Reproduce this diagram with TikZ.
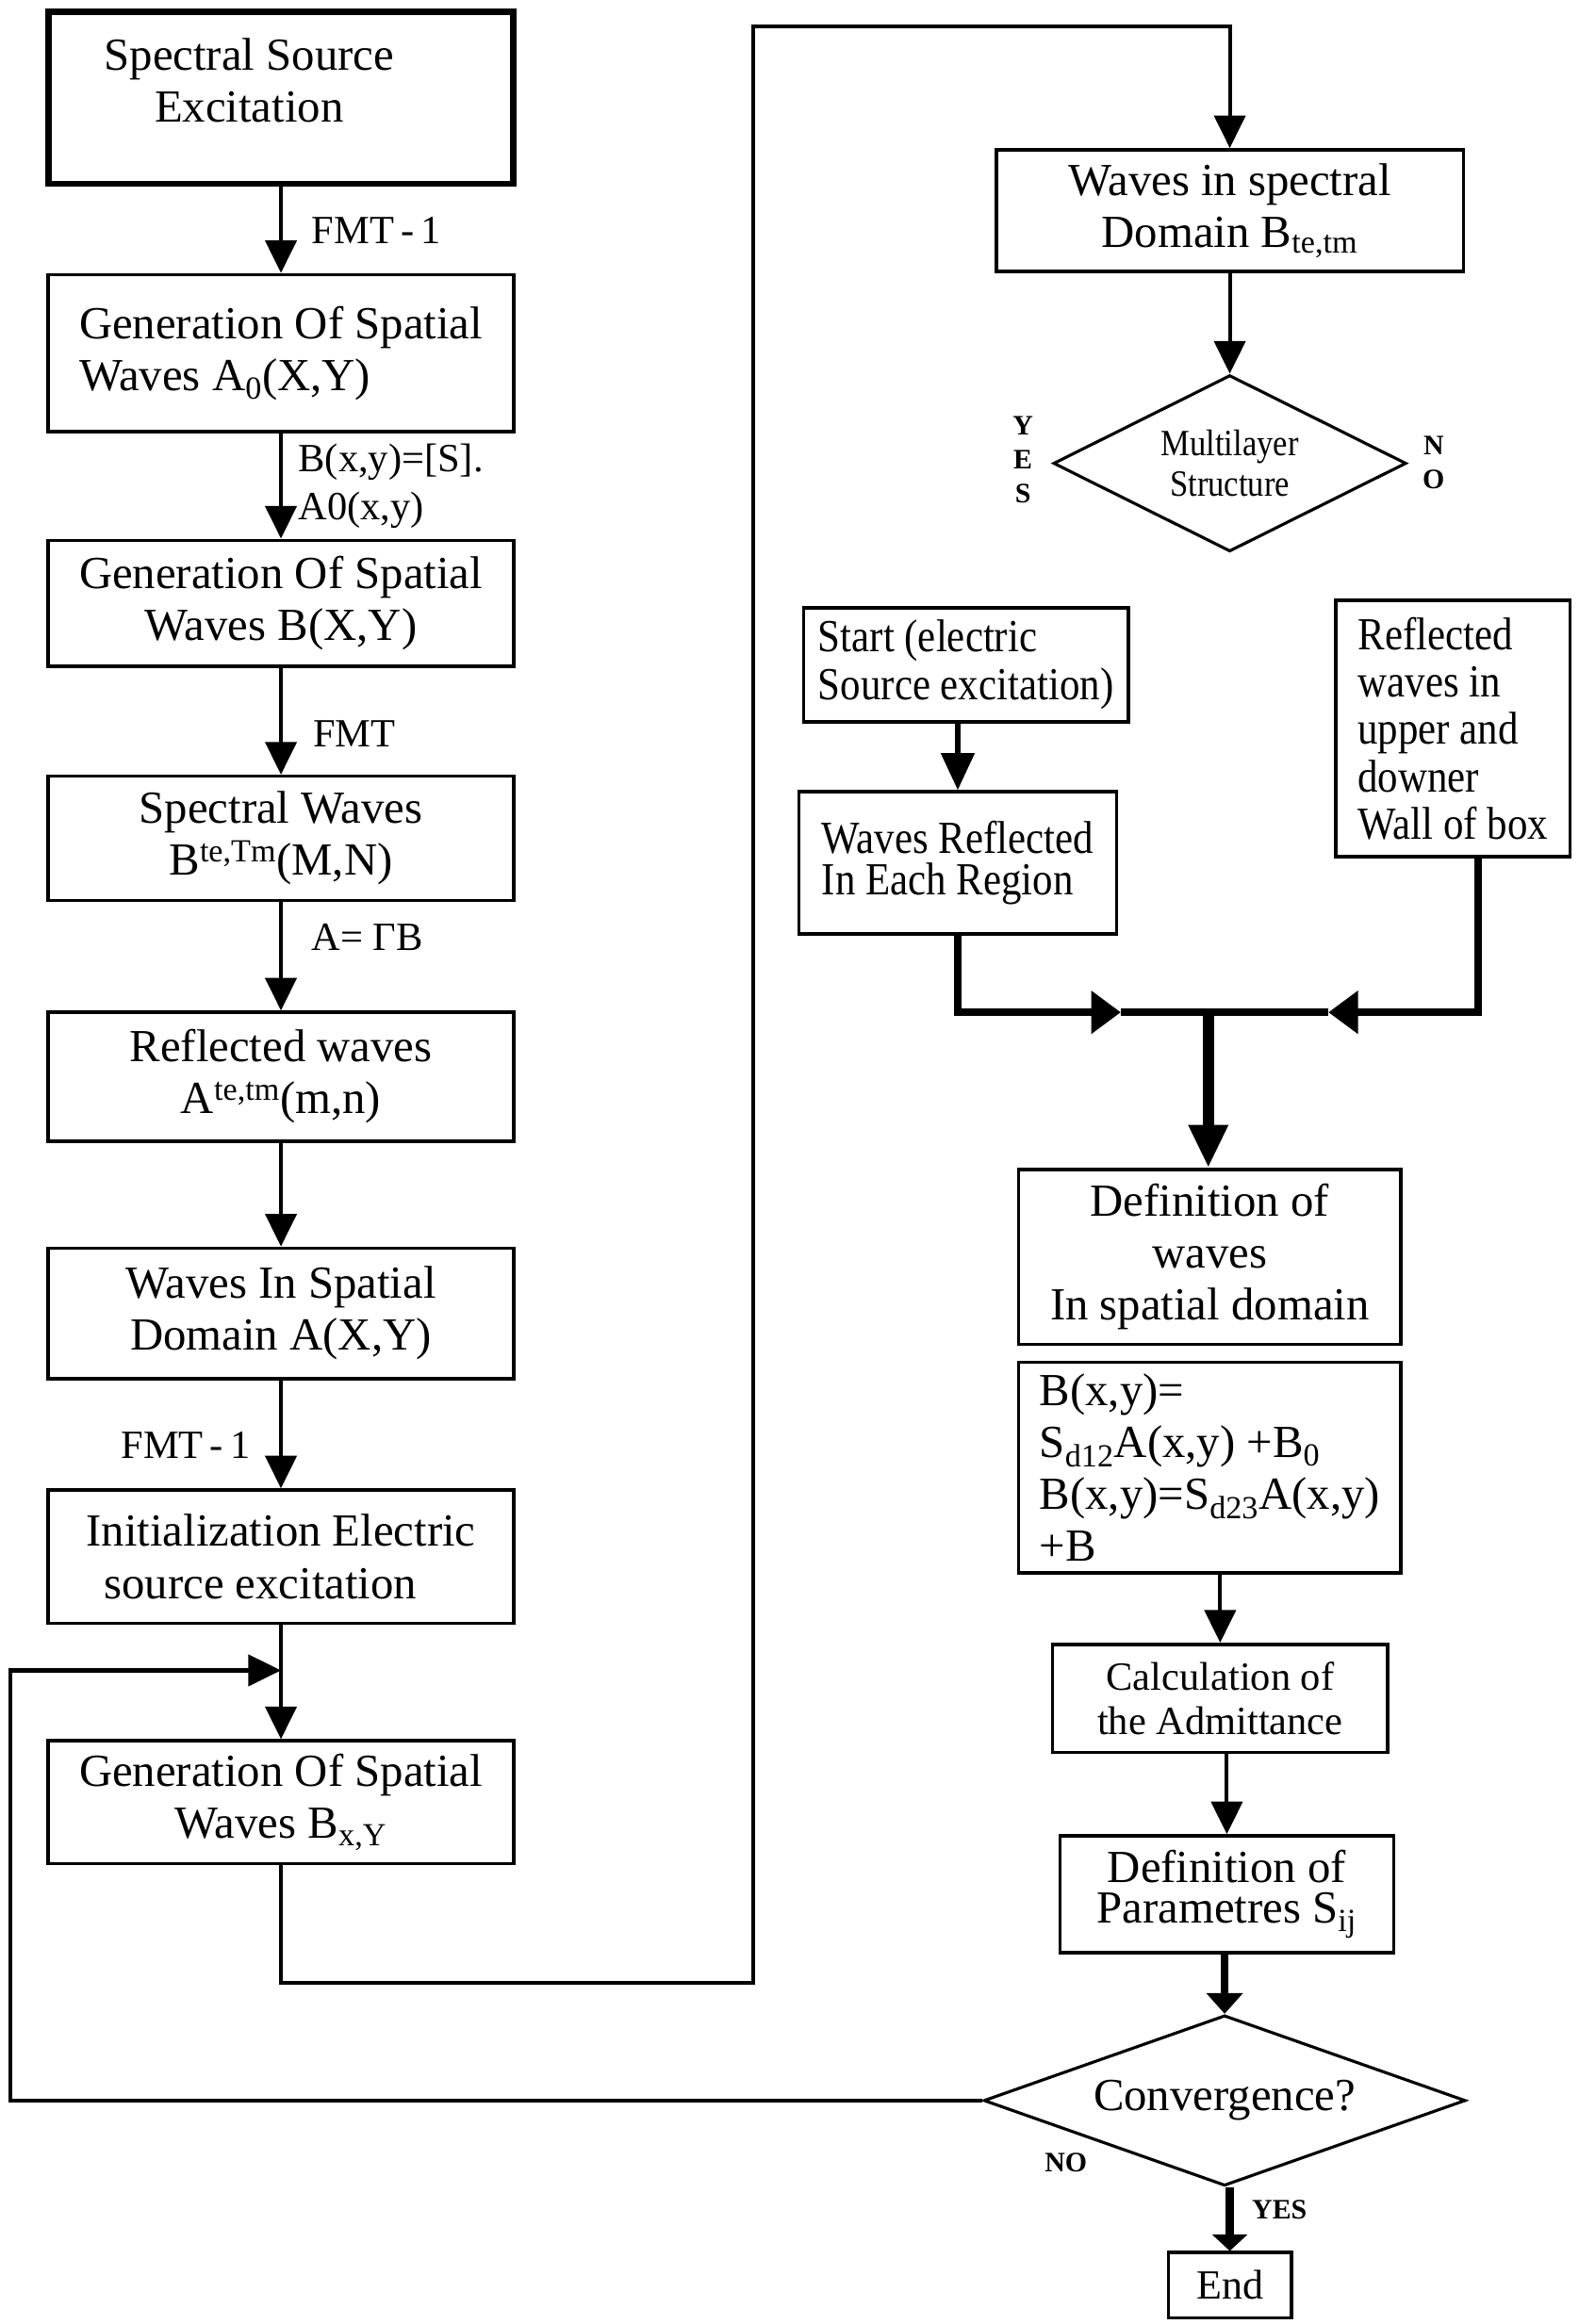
\documentclass[tikz,border=0pt]{standalone}
\usepackage{fontspec}
\setmainfont{Liberation Serif}
\newfontfamily\condfont{Liberation Serif}[FakeStretch=0.88]
\usetikzlibrary{shapes.geometric, arrows.meta, positioning}

\begin{document}
\begin{tikzpicture}[
    x=1pt, y=1pt,
    node distance=70pt,
    box/.style={rectangle, draw, line width=2.2pt, align=center, inner sep=3pt, font={\fontsize{31}{35}\selectfont}},
    lbox/.style={box, minimum width=314pt},
    cbox/.style={box, font={\condfont\fontsize{31}{32}\selectfont}},
    decision/.style={diamond, draw, line width=2pt, inner sep=0pt, align=center},
    lbl/.style={font={\fontsize{27}{32}\selectfont}, align=left, inner sep=2pt},
    yn/.style={font={\bfseries\fontsize{19}{23}\selectfont}, align=center, inner sep=0pt},
    line/.style={line width=2.6pt},
    arrow/.style={line, -{Triangle[length=22pt, width=21pt]}},
    fat/.style={line width=5.5pt}
]
\useasboundingbox (0,0) rectangle (1065,-1568);

% Left column
\node[lbox, line width=4.4pt, minimum width=313pt, minimum height=116pt,
      label={[name=srctxt, shift={(-21.5pt,12pt)}, align=center, font={\fontsize{31}{35}\selectfont}]center:{Spectral Source\\Excitation}}]
      (src) at (189.5,-66) {};
\node[lbox, minimum height=106pt, align=left, below=58pt of src] (genA) {Generation Of Spatial\\Waves A\textsubscript{0}(X,Y)};
\node[lbox, minimum height=85pt, below=71pt of genA] (genB) {Generation Of Spatial\\Waves B(X,Y)};
\node[lbox, minimum height=84pt, below=72pt of genB] (spec) {Spectral Waves\\B\textsuperscript{te,Tm}(M,N)};
\node[lbox, minimum height=87pt, below=73pt of spec] (refl) {Reflected waves\\A\textsuperscript{te,tm}(m,n)};
\node[lbox, minimum height=88pt, below=70pt of refl] (spat) {Waves In Spatial\\Domain A(X,Y)};
\node[lbox, minimum height=90pt, align=left, below=73pt of spat] (init) {Initialization Electric\\\hspace*{12pt}source excitation};
\node[lbox, minimum height=83pt, below=77pt of init] (genBxy) {Generation Of Spatial\\Waves B\textsubscript{x,Y}};

% Right column
\node[box, minimum width=315pt, minimum height=82pt] (specdom) at (829.5,-142) {Waves in spectral\\Domain B\textsubscript{te,tm}};
\node[decision, aspect=2, minimum width=238pt, minimum height=119pt, font={\condfont\fontsize{25}{27}\selectfont}, below=68pt of specdom] (multi) {Multilayer\\Structure};
\node[yn] (yes1) at (690,-310) {Y\\E\\S};
\node[yn] (no1) at (967,-312) {N\\O};

\node[cbox, minimum width=219pt, minimum height=77pt, align=left] (start) at (651.5,-448.5) {Start (electric\\Source excitation)};
\node[cbox, minimum width=214pt, minimum height=96pt, align=left, font={\condfont\fontsize{31}{28}\selectfont}, below=45pt of start, xshift=-5.5pt] (region) {Waves Reflected\\In Each Region};
\node[cbox, minimum width=158pt, minimum height=173pt, align=left] (wall) at (980,-491.5) {Reflected\\waves in\\upper and\\downer\\Wall of box};

\node[box, minimum width=258pt, minimum height=118pt] (defw) at (816,-848) {Definition of\\waves\\In spatial domain};
\node[box, minimum width=258pt, minimum height=142pt, align=left, below=10pt of defw] (eqs) {B(x,y)=\\S\textsubscript{d12}A(x,y) +B\textsubscript{0}\\B(x,y)=S\textsubscript{d23}A(x,y)\\+B};
\node[box, minimum width=226pt, minimum height=73pt, font={\fontsize{27}{30}\selectfont}, below=46pt of eqs, xshift=7pt] (admit) {Calculation of\\the Admittance};
\node[box, minimum width=225pt, minimum height=79pt, font={\fontsize{31}{27}\selectfont}, below=54pt of admit, xshift=4.5pt] (sparam) {Definition of\\Parametres S\textsubscript{ij}};
\node[decision, aspect=2.83, minimum width=325pt, minimum height=115pt, font={\fontsize{31}{35}\selectfont}, below=40pt of sparam, xshift=-1.5pt] (conv) {Convergence?};
\node[box, minimum width=83pt, minimum height=44pt, font={\fontsize{28}{32}\selectfont}, below=43pt of conv, xshift=3.5pt] (fin) {End};
\node[yn] (no2) at (719,-1459) {NO};
\node[yn] (yes2) at (863,-1491) {YES};

% Helper points
\coordinate (fb) at (189.5,-1127);
\coordinate (fbcorner) at (7,-1127);
\coordinate (loopbot) at (508,-1338);
\coordinate (looptop) at (508,-18);
\coordinate (jn) at (815,-683);
\coordinate (jl) at (756,-683);
\coordinate (jr) at (896,-683);

% Arrows, left column
\draw[arrow] (src) -- (genA) node[lbl, midway, right, xshift=17.5pt] (fmta) {FMT\,-\,1};
\draw[arrow] (genA) -- (genB) node[lbl, midway, right, xshift=8.5pt] (eqlbl) {B(x,y)=[S].\\A0(x,y)};
\draw[arrow] (genB) -- (spec) node[lbl, pos=0.62, right, xshift=18.5pt] (fmtb) {FMT};
\draw[arrow] (spec) -- (refl) node[lbl, pos=0.32, right, xshift=17.5pt] (gam) {A= ΓB};
\draw[arrow] (refl) -- (spat);
\draw[arrow] (spat) -- (init) node[lbl, pos=0.6, left, xshift=-17.5pt] (fmtc) {FMT\,-\,1};
\draw[arrow] (init) -- (genBxy);
\draw[arrow] (genBxy.south) |- (loopbot) -- (looptop) -| (specdom.north);
\draw[arrow] (conv.west) -| (fbcorner) -- (fb);

% Arrows, right column
\draw[arrow] (specdom) -- (multi);
\draw[line width=4pt, -{Triangle[length=25pt, width=22pt]}] (start.south -| region) -- (region.north);
\draw[fat, -{Triangle[length=20pt, width=28pt]}] (region.south) |- (jl);
\draw[fat] (jl) -- (jr);
\draw[fat, -{Triangle[length=20pt, width=28pt]}] ([xshift=17pt]wall.south) |- (jr);
\draw[line width=7.5pt, -{Triangle[length=29pt, width=25pt]}] (jn) -- (jn |- defw.north);
\draw[arrow] (eqs.south -| admit) -- (admit.north);
\draw[arrow] (admit.south -| sparam) -- (sparam.north);
\draw[fat, -{Triangle[length=14pt, width=24pt]}] (sparam.south -| conv) -- (conv.north);
\draw[fat, -{Triangle[length=11pt, width=23pt]}] (conv.south -| fin) -- (fin.north);

\end{tikzpicture}
\end{document}
